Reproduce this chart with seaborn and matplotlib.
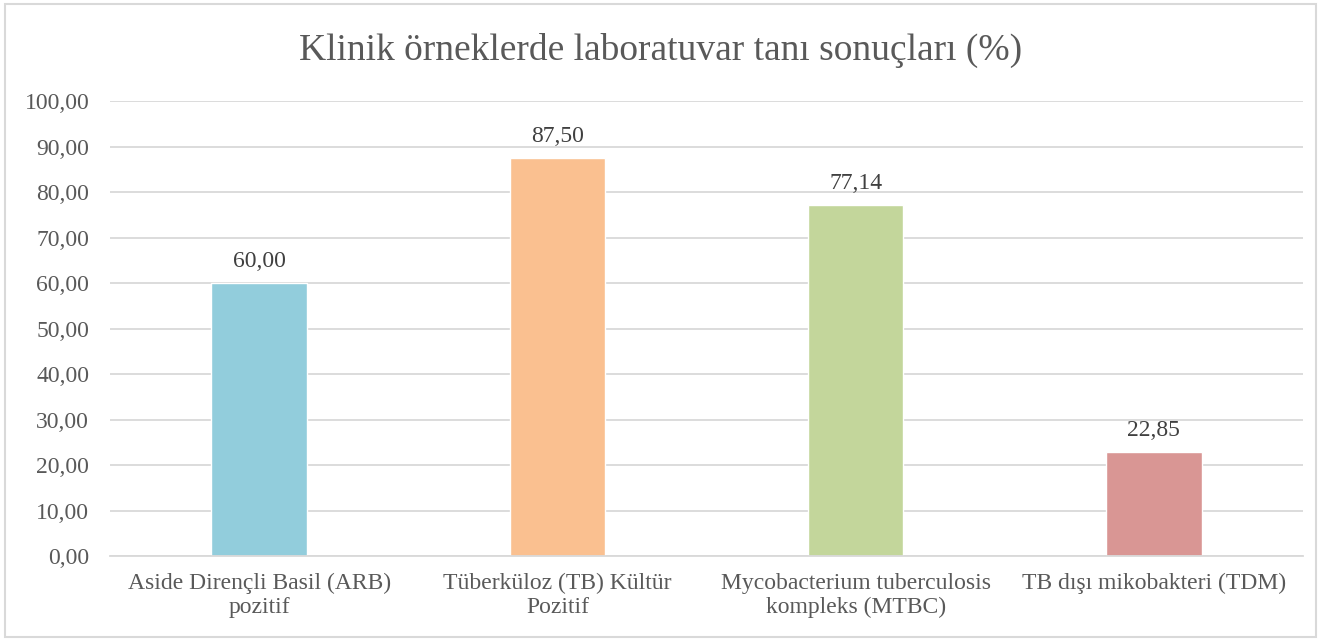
import pandas as pd
import matplotlib.pyplot as plt
import seaborn as sns
from matplotlib.patches import Rectangle

categories = [
    "Aside Dirençli Basil (ARB)\npozitif",
    "Tüberküloz (TB) Kültür\nPozitif",
    "Mycobacterium tuberculosis\nkompleks (MTBC)",
    "TB dışı mikobakteri (TDM)",
]
values = [60.00, 87.50, 77.14, 22.85]
colors = ["#92CDDC", "#FAC090", "#C3D69B", "#D99694"]
yticks = [0, 10, 20, 30, 40, 50, 60, 70, 80, 90, 100]

df = pd.DataFrame({"kategori": categories, "oran": values})

sns.set_style("white")
plt.rcParams["font.family"] = ["Liberation Serif", "DejaVu Serif"]
text_color = "#595959"
grid_color = "#D9D9D9"

fig = plt.figure(figsize=(13.21, 6.41), dpi=100)
ax = fig.add_axes([0.0833, 0.1326, 0.9031, 0.7098])

sns.barplot(data=df, x="kategori", y="oran", hue="kategori", palette=colors,
            width=0.32, legend=False, saturation=1, ax=ax)

ax.set_ylim(0, 100)
ax.set_yticks(yticks)
ax.set_yticklabels([f"{v:.2f}".replace(".", ",") for v in yticks])
ax.set_xlim(-0.5, len(categories) - 0.5)
ax.yaxis.grid(True, color=grid_color, linewidth=1.3)
ax.set_axisbelow(True)
for side in ["top", "right", "left"]:
    ax.spines[side].set_visible(False)
ax.spines["bottom"].set_color(grid_color)
ax.spines["bottom"].set_linewidth(1.3)
ax.tick_params(axis="both", length=0, labelsize=17, colors=text_color)
ax.tick_params(axis="x", pad=12)
ax.tick_params(axis="y", pad=15)
for lbl in ax.get_xticklabels():
    lbl.set_linespacing(1.2)
ax.set_xlabel("")
ax.set_ylabel("")

for cont in ax.containers:
    ax.bar_label(cont, labels=[f"{v.get_height():.2f}".replace(".", ",") for v in cont],
                 padding=8, fontsize=17, color="#404040")

fig.text(0.5, 0.922, "Klinik örneklerde laboratuvar tanı sonuçları (%)",
         ha="center", va="center", fontsize=27, color=text_color)

fig.patches.append(Rectangle((0.004, 0.006), 0.992, 0.988, transform=fig.transFigure,
                             fill=False, edgecolor=grid_color, linewidth=1.5))

fig.savefig("out.png", dpi=100)
